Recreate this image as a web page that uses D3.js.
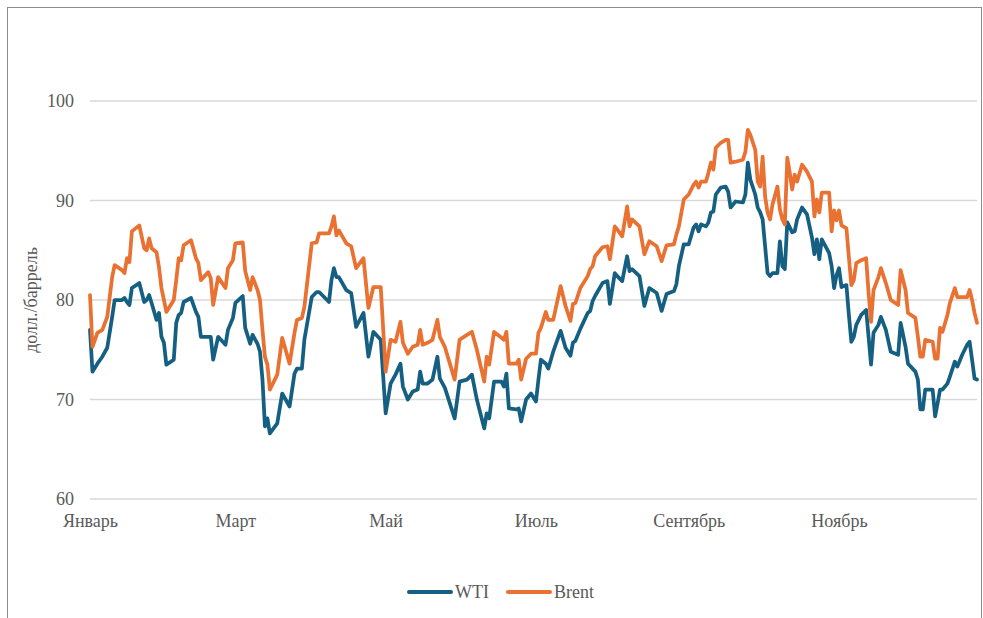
<!DOCTYPE html>
<html>
<head>
<meta charset="utf-8">
<script src="https://cdn.jsdelivr.net/npm/d3@7"></script>
<style>
  body { margin: 0; background: #fff; }
  svg { display: block; font-family: "Liberation Serif", "Times New Roman", serif; }
</style>
</head>
<body>
<svg id="chart" width="983" height="618"></svg>
<script>
// daily spot prices, 2023
const dates = [
  '01-03','01-04','01-06','01-08','01-10','01-12','01-13','01-16','01-17','01-18','01-19','01-20','01-23','01-25','01-26','01-27','01-28','01-30','01-31',
  '02-01','02-02','02-03','02-06','02-07','02-08','02-09','02-10','02-13','02-15','02-16','02-17','02-20','02-21','02-22','02-24','02-27','02-28',
  '03-02','03-03','03-06','03-07','03-09','03-10','03-12','03-13','03-14','03-15','03-16','03-17','03-20','03-22','03-25','03-27','03-28','03-30','03-31',
  '04-03','04-05','04-06','04-10','04-11','04-12','04-13','04-14','04-17','04-19','04-21','04-24','04-26','04-28',
  '05-01','05-03','05-05','05-07','05-09','05-10','05-12','05-14','05-16','05-17','05-18','05-20','05-22','05-24','05-25','05-27','05-31',
  '06-02','06-05','06-07','06-09','06-12','06-13','06-14','06-16','06-19','06-20','06-21','06-22','06-25','06-26','06-27','06-29',
  '07-01','07-03','07-04','07-05','07-07','07-08','07-10','07-13','07-15','07-17','07-18','07-19','07-21','07-24','07-25','07-26','07-27','07-30',
  '08-01','08-02','08-04','08-05','08-07','08-09','08-10','08-11','08-14','08-16','08-18','08-21','08-23','08-25','08-28','08-29','08-30',
  '09-01','09-03','09-05','09-06','09-07','09-08','09-10','09-11','09-12','09-13','09-14','09-16','09-18','09-19','09-20','09-22','09-25','09-26','09-27','09-28','09-30',
  '10-01','10-02','10-03','10-04','10-05','10-06','10-07','10-09','10-10','10-11','10-12','10-13','10-14','10-15','10-16','10-17','10-19','10-21','10-23','10-24','10-25','10-26','10-27','10-30','10-31',
  '11-01','11-02','11-03','11-04','11-06','11-07','11-08','11-09','11-10','11-12','11-14','11-15','11-16','11-17','11-19','11-20','11-22','11-24','11-27','11-28','11-30',
  '12-01','12-04','12-05','12-06','12-07','12-08','12-11','12-12','12-13','12-14','12-15','12-17','12-18','12-20','12-21','12-23','12-25','12-26','12-27','12-28','12-29'
];

const wti = [
  77.0,72.8,73.6,74.3,75.2,78.3,80.0,80.0,80.2,79.8,79.5,81.2,81.7,79.8,80.0,80.5,79.7,78.0,78.7,
  76.3,75.7,73.5,74.0,77.7,78.5,78.7,79.8,80.2,78.8,78.3,76.3,76.3,76.3,74.0,76.3,75.5,77.0,
  78.2,79.7,80.4,77.2,75.6,76.5,75.6,74.8,72.0,67.3,68.1,66.6,67.6,70.6,69.3,72.6,73.1,73.1,76.0,
  80.3,80.8,80.8,79.8,82.0,83.2,82.3,82.3,81.0,80.7,77.3,78.7,74.3,76.8,
  76.0,68.6,71.6,72.5,73.6,71.3,70.0,70.8,71.0,72.8,71.6,71.6,72.0,74.3,72.1,71.2,68.1,
  71.8,72.0,72.5,70.0,67.1,68.6,68.1,71.8,71.8,71.3,72.6,69.1,69.0,69.1,67.8,70.0,
  70.6,69.8,72.0,74.0,73.6,73.1,74.8,76.9,75.2,74.4,75.7,75.9,77.1,78.7,78.9,79.9,80.4,81.7,
  81.9,79.6,82.7,82.4,81.9,84.4,82.9,83.1,82.4,79.4,81.2,80.7,78.9,80.6,80.9,81.6,83.4,
  85.6,85.6,87.3,87.6,86.9,87.6,87.4,87.8,88.8,88.9,90.6,91.3,91.4,90.9,89.3,89.9,89.8,90.6,93.8,92.1,90.6,
  89.3,88.8,88.1,85.4,82.7,82.4,82.7,82.7,85.9,83.4,83.1,87.8,87.3,86.8,86.9,88.1,89.3,88.6,86.3,84.6,86.1,84.1,86.1,84.7,83.4,
  81.2,82.5,83.2,81.3,81.5,78.5,75.8,76.3,77.5,78.5,79.0,76.3,73.5,76.7,77.5,78.3,77.0,74.8,74.5,77.7,75.3,
  73.6,72.8,72.0,69.0,69.0,71.0,71.0,68.3,69.6,71.0,71.0,71.6,72.3,73.8,73.3,74.5,75.5,75.8,74.0,72.1,72.0
];

const brent = [
  80.5,75.3,76.7,77.0,78.3,82.3,83.5,83.0,82.7,84.2,83.8,86.9,87.5,85.2,85.0,86.2,85.2,84.8,83.3,
  81.2,80.0,78.8,80.0,82.0,84.2,84.0,85.5,86.0,84.2,83.7,82.0,82.8,82.2,79.5,82.3,81.2,83.2,
  84.0,85.7,85.8,82.9,81.0,82.3,81.0,80.0,77.0,74.3,73.5,71.0,72.5,76.2,73.6,76.7,78.0,78.2,79.3,
  85.7,85.8,86.7,86.7,87.4,88.4,86.5,87.0,85.7,85.4,83.2,84.2,79.2,81.3,
  81.3,72.8,76.0,75.8,77.8,75.7,74.6,75.3,75.5,77.0,75.5,75.7,76.0,78.0,76.3,75.3,72.0,
  76.0,76.5,76.8,75.0,71.8,74.3,73.5,76.8,76.2,76.0,76.8,73.6,73.6,74.0,72.0,74.1,
  74.6,74.6,76.7,77.2,78.8,78.0,78.0,81.4,79.4,77.9,79.6,79.7,81.2,82.4,83.1,83.4,84.4,85.3,
  85.4,84.1,87.4,87.1,86.4,89.4,87.4,88.1,87.4,84.6,85.9,85.4,83.9,85.5,85.6,86.6,87.4,
  90.1,90.6,91.6,91.9,91.3,91.9,91.9,92.8,93.8,93.1,95.3,95.8,96.1,96.1,93.8,93.9,94.1,94.9,97.1,96.6,95.1,
  91.9,91.4,94.4,90.4,88.8,88.1,89.6,91.4,89.1,88.1,87.6,94.3,92.8,91.1,92.6,91.9,93.6,92.9,91.9,88.4,90.1,88.8,90.8,90.8,86.9,
  89.0,88.0,89.0,87.5,87.2,84.3,81.5,82.0,83.7,84.0,84.2,80.7,77.8,81.0,82.3,83.2,81.7,80.0,79.5,83.0,81.0,
  78.7,78.2,76.3,74.3,74.3,76.0,75.8,74.1,74.1,77.2,76.8,78.5,79.7,81.2,80.3,80.3,80.3,81.0,80.0,78.7,77.7
];

const seriesNames = ['WTI', 'Brent'];
const seriesColors = ['#156082', '#E97132'];
const yTicks = [60, 70, 80, 90, 100];
const tickDays = ['01-03', '03-03', '05-03', '07-03', '09-03', '11-03'];
const monthLabels = ['Январь', 'Март', 'Май', 'Июль', 'Сентябрь', 'Ноябрь'];
const yTitle = 'долл./баррель';

const parse = s => d3.timeParse('%Y-%m-%d')('2023-' + s);
const series = [wti, brent].map((vals, k) => ({
  name: seriesNames[k],
  color: seriesColors[k],
  points: vals.map((v, i) => ({ date: parse(dates[i]), value: v }))
}));

const svg = d3.select('#chart');
const textColor = '#595959';
const fontSize = 18;

svg.append('rect')
  .attr('x', 7.5).attr('y', 7.5)
  .attr('width', 974).attr('height', 620)
  .attr('fill', '#fff')
  .attr('stroke', '#8c8c8c')
  .attr('stroke-width', 1);

const x = d3.scaleTime()
  .domain([parse(dates[0]), parse(dates[dates.length - 1])])
  .range([90, 977]);
const y = d3.scaleLinear().domain([60, 100]).range([499, 101]);

// gridlines
svg.append('g').selectAll('line').data(yTicks).join('line')
  .attr('x1', x.range()[0]).attr('x2', x.range()[1])
  .attr('y1', d => y(d)).attr('y2', d => y(d))
  .attr('stroke', '#d9d9d9')
  .attr('stroke-width', 1.3);

// y axis
const yAxis = svg.append('g')
  .attr('transform', `translate(${x.range()[0]},0)`)
  .call(d3.axisLeft(y).tickValues(yTicks).tickSize(0).tickPadding(16));
yAxis.select('.domain').remove();

// x axis
const xAxis = svg.append('g')
  .attr('transform', `translate(0,${y(60)})`)
  .call(d3.axisBottom(x)
    .tickValues(tickDays.map(parse))
    .tickFormat((d, i) => monthLabels[i])
    .tickSize(0).tickPadding(15));
xAxis.select('.domain').remove();

svg.selectAll('.tick text')
  .attr('fill', textColor)
  .style('font-family', '"Liberation Serif", "Times New Roman", serif')
  .style('font-size', fontSize + 'px');

svg.append('text')
  .attr('transform', 'translate(31,300) rotate(-90)')
  .attr('text-anchor', 'middle')
  .attr('dominant-baseline', 'central')
  .attr('fill', textColor)
  .style('font-size', fontSize + 'px')
  .text(yTitle);

// lines
const line = d3.line()
  .x(d => x(d.date))
  .y(d => y(d.value));

svg.append('g').selectAll('path').data(series).join('path')
  .attr('d', d => line(d.points))
  .attr('fill', 'none')
  .attr('stroke', d => d.color)
  .attr('stroke-width', 3.75)
  .attr('stroke-linejoin', 'round')
  .attr('stroke-linecap', 'round');

// legend
const legendX = [409, 508];
const legend = svg.append('g').selectAll('g').data(series).join('g')
  .attr('transform', (d, i) => `translate(${legendX[i]},592)`);
legend.append('line')
  .attr('x1', 0).attr('x2', 42)
  .attr('stroke', d => d.color)
  .attr('stroke-width', 4)
  .attr('stroke-linecap', 'round');
legend.append('text')
  .attr('x', 46).attr('y', 6)
  .attr('fill', textColor)
  .style('font-size', fontSize + 'px')
  .text(d => d.name);
</script>
</body>
</html>
